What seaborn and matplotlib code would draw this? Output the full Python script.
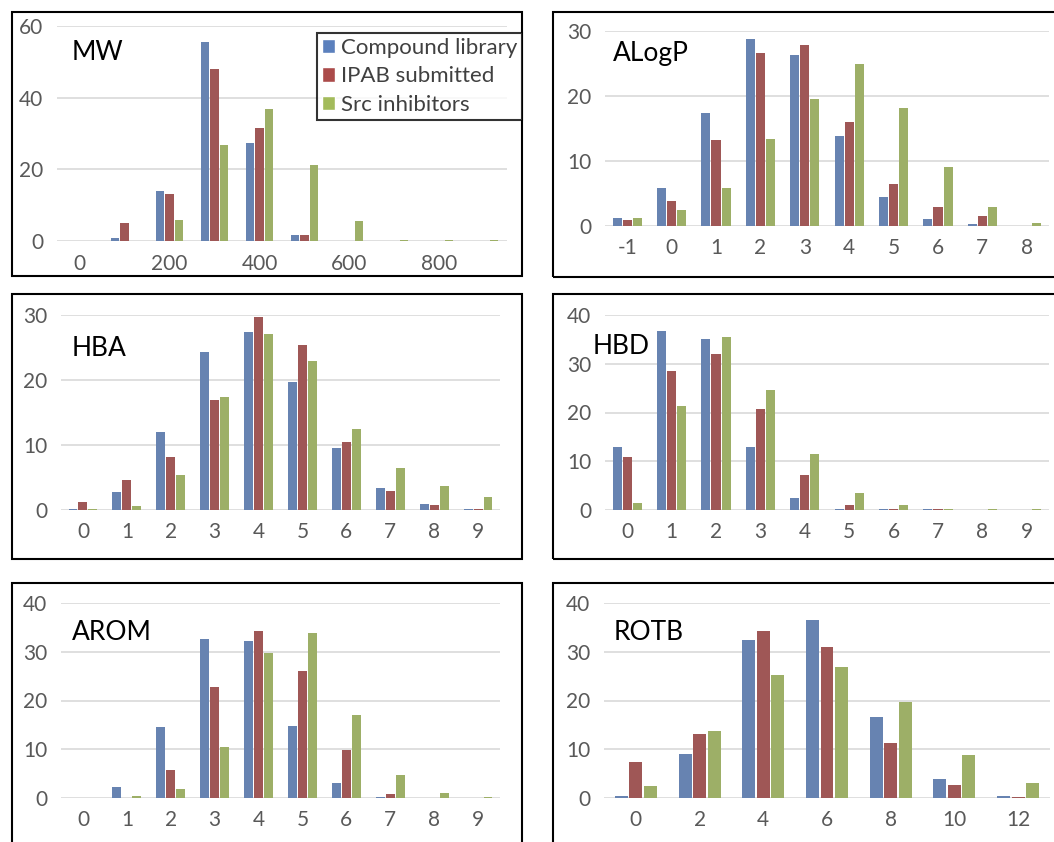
import pandas as pd
import seaborn as sns
import matplotlib.pyplot as plt
from matplotlib.patches import Rectangle

# Series shown in every panel
series = ['Compound library', 'IPAB submitted', 'Src inhibitors']
colors = ['#5B80BD', '#AB4B4A', '#A3BB5B']

# MW
mw_cats = ['0', '100', '200', '300', '400', '500', '600', '700', '800', '900']
mw_lib = [0, 0.7, 14.0, 55.5, 27.3, 1.8, 0, 0, 0, 0]
mw_ipab = [0, 5.1, 13.0, 48.0, 31.6, 1.8, 0, 0, 0, 0]
mw_src = [0, 0, 6.0, 26.9, 36.9, 21.2, 5.5, 0.3, 0.3, 0.3]

# ALogP
alogp_cats = ['-1', '0', '1', '2', '3', '4', '5', '6', '7', '8']
alogp_lib = [1.2, 5.9, 17.4, 28.8, 26.3, 13.8, 4.4, 1.1, 0.25, 0.05]
alogp_ipab = [0.9, 3.8, 13.3, 26.6, 27.8, 16.0, 6.5, 3.0, 1.6, 0]
alogp_src = [1.2, 2.5, 5.9, 13.4, 19.5, 25.0, 18.1, 9.1, 3.0, 0.4]

# HBA
hba_cats = ['0', '1', '2', '3', '4', '5', '6', '7', '8', '9']
hba_lib = [0.2, 2.8, 12.0, 24.3, 27.4, 19.7, 9.6, 3.4, 0.9, 0.2]
hba_ipab = [1.3, 4.6, 8.1, 16.9, 29.7, 25.4, 10.5, 3.0, 0.8, 0.2]
hba_src = [0.2, 0.6, 5.4, 17.4, 27.1, 22.9, 12.5, 6.5, 3.7, 2.0]

# HBD
hbd_cats = ['0', '1', '2', '3', '4', '5', '6', '7', '8', '9']
hbd_lib = [13.0, 36.8, 35.0, 13.0, 2.4, 0.3, 0.3, 0.2, 0, 0]
hbd_ipab = [10.9, 28.5, 32.0, 20.7, 7.2, 1.0, 0.3, 0.2, 0, 0]
hbd_src = [1.4, 21.3, 35.4, 24.6, 11.5, 3.5, 1.0, 0.2, 0.2, 0.2]

# AROM
arom_cats = ['0', '1', '2', '3', '4', '5', '6', '7', '8', '9']
arom_lib = [0, 2.2, 14.5, 32.7, 32.2, 14.7, 3.1, 0.3, 0, 0]
arom_ipab = [0, 0, 5.7, 22.8, 34.3, 26.0, 9.8, 0.75, 0, 0]
arom_src = [0, 0.5, 1.9, 10.5, 29.7, 33.9, 17.0, 4.7, 1.0, 0.3]

# ROTB
rotb_cats = ['0', '2', '4', '6', '8', '10', '12']
rotb_lib = [0.5, 9.1, 32.5, 36.5, 16.6, 3.8, 0.5]
rotb_ipab = [7.3, 13.2, 34.3, 30.9, 11.2, 2.7, 0.3]
rotb_src = [2.5, 13.7, 25.3, 26.9, 19.7, 8.9, 3.1]

sns.set_style('white')
plt.rcParams['font.family'] = ['Lato', 'DejaVu Sans']

W, H = 1054, 842
fig = plt.figure(figsize=(W / 100, H / 100), dpi=100)


def px_rect(x0, y0, x1, y1):
    # pixel box (top-left origin) -> figure fraction
    return [x0 / W, 1 - y1 / H, (x1 - x0) / W, (y1 - y0) / H]


def make_panel(name, cats, lib, ipab, src, ymax, ystep, axbox, border, namepos,
               ticks=None, ticklabels=None, width=0.68):
    rows = []
    for s, vals in zip(series, [lib, ipab, src]):
        for c, v in zip(cats, vals):
            rows.append({'cat': c, 'series': s, 'val': v})
    df = pd.DataFrame(rows)

    ax = fig.add_axes(px_rect(*axbox))
    sns.barplot(data=df, x='cat', y='val', hue='series', order=cats,
                hue_order=series, palette=colors, width=width, gap=0.1,
                linewidth=0, ax=ax, legend=False)
    ax.set_xlim(-0.5, len(cats) - 0.5)
    ax.set_ylim(0, ymax)
    ax.set_yticks(range(0, ymax + 1, ystep))
    if ticks is not None:
        ax.set_xticks(ticks, ticklabels)
    ax.set_xlabel('')
    ax.set_ylabel('')
    for sp in ax.spines.values():
        sp.set_visible(False)
    ax.set_axisbelow(True)
    ax.yaxis.grid(True, color='#D9D9D9', linewidth=1.2)
    ax.tick_params(length=0, labelsize=15, labelcolor='#595959')
    ax.tick_params(axis='x', pad=9)
    ax.tick_params(axis='y', pad=10)
    ax.patch.set_alpha(0)

    bx0, by0, bx1, by1 = border
    fig.add_artist(Rectangle((bx0 / W, 1 - by1 / H), (bx1 - bx0) / W, (by1 - by0) / H,
                             transform=fig.transFigure, fill=False,
                             edgecolor='black', linewidth=1.5, zorder=0))
    fig.text(namepos[0] / W, 1 - namepos[1] / H, name, fontsize=19,
             color='black', ha='left', va='center')
    return ax


ax_mw = make_panel('MW', mw_cats, mw_lib, mw_ipab, mw_src, 60, 20,
                   (57, 26, 507, 241), (12, 12, 522, 276), (72, 53),
                   ticks=[0, 2, 4, 6, 8], ticklabels=['0', '200', '400', '600', '800'],
                   width=0.64)
make_panel('ALogP', alogp_cats, alogp_lib, alogp_ipab, alogp_src, 30, 10,
           (605, 31, 1049, 226), (553, 12, 1070, 277), (613, 53))
make_panel('HBA', hba_cats, hba_lib, hba_ipab, hba_src, 30, 10,
           (61, 315, 500, 510), (12, 294, 522, 559), (72, 348))
make_panel('HBD', hbd_cats, hbd_lib, hbd_ipab, hbd_src, 40, 10,
           (605, 315, 1049, 510), (553, 294, 1070, 559), (593, 347))
make_panel('AROM', arom_cats, arom_lib, arom_ipab, arom_src, 40, 10,
           (61, 603, 500, 798), (12, 583, 522, 860), (72, 632))
make_panel('ROTB', rotb_cats, rotb_lib, rotb_ipab, rotb_src, 40, 10,
           (604, 603, 1050, 798), (553, 583, 1070, 860), (614, 632), width=0.68)

# legend box in the MW panel
handles = [Rectangle((0, 0), 1, 1, facecolor=c) for c in colors]
leg = fig.legend(handles, series, loc='upper left',
                 bbox_to_anchor=(317 / W, 1 - 33 / H), bbox_transform=fig.transFigure,
                 fontsize=16, frameon=True, fancybox=False, edgecolor='black',
                 handlelength=0.6, handleheight=0.6, handletextpad=0.25,
                 labelspacing=0.38, borderpad=0.22, borderaxespad=0)
leg.get_frame().set_linewidth(1.5)
for t in leg.get_texts():
    t.set_color('#404040')

fig.savefig('out.png', dpi=100)
